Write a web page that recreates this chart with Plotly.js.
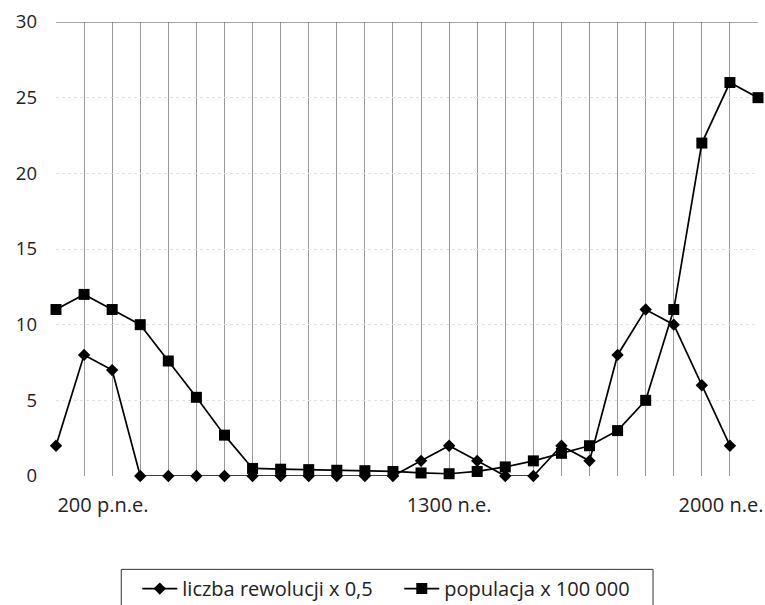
<!DOCTYPE html>
<html>
<head>
<meta charset="utf-8">
<script src="https://cdn.plot.ly/plotly-3.0.1.min.js"></script>
<style>
  html, body { margin: 0; padding: 0; background: #fff; }
  #chart { width: 765px; height: 605px; }
</style>
</head>
<body>
<div id="chart"></div>
<script>
// Evenly spaced time steps (index 0..25)
const steps = Array.from({length: 26}, (_, i) => i);

// Number of revolutions, scaled by 0.5
const revolutions = [2, 8, 7, 0, 0, 0, 0, 0, 0, 0, 0, 0, 0, 1, 2, 1, 0, 0, 2, 1, 8, 11, 10, 6, 2, null];

// Population, in units of 100 000
const population = [11, 12, 11, 10, 7.6, 5.2, 2.7, 0.5, 0.45, 0.42, 0.38, 0.35, 0.3, 0.2, 0.15, 0.3, 0.6, 1, 1.5, 2, 3, 5, 11, 22, 26, 25];

// Era labels along the time axis
const eraLabels = ['200 p.n.e.', '1300 n.e.', '2000 n.e.'];
const eraPositions = [1.67, 14, 23.68];

const yTicks = [0, 5, 10, 15, 20, 25, 30];

const font = 'Open Sans, Noto Sans, sans-serif';

const traces = [
  {
    x: steps, y: revolutions, name: 'liczba rewolucji x 0,5',
    type: 'scatter', mode: 'lines+markers', cliponaxis: false,
    line: {color: '#000', width: 1.7},
    marker: {symbol: 'diamond', size: 9.5, color: '#000'}
  },
  {
    x: steps, y: population, name: 'populacja x 100 000',
    type: 'scatter', mode: 'lines+markers', cliponaxis: false,
    line: {color: '#000', width: 1.7},
    marker: {symbol: 'square', size: 11, color: '#000'}
  }
];

const layout = {
  width: 765, height: 605,
  margin: {l: 55.7, r: 7, t: 22, b: 129.3, autoexpand: false},
  paper_bgcolor: '#fff', plot_bgcolor: '#fff',
  font: {family: font, color: '#222', size: 17},
  showlegend: true,
  legend: {
    orientation: 'h', x: 0.1158, xanchor: 'left', y: -0.205, yanchor: 'top',
    borderwidth: 0, bgcolor: 'rgba(0,0,0,0)',
    font: {family: font, size: 20, color: '#222'},
    itemwidth: 35, traceorder: 'normal',
    entrywidth: 212, entrywidthmode: 'pixels'
  },
  xaxis: {
    range: [0, 25], fixedrange: true,
    tickmode: 'array', tickvals: eraPositions, ticktext: eraLabels,
    ticks: '', showgrid: false, zeroline: false, showline: false,
    ticklabelstandoff: 15,
    tickfont: {family: font, size: 20, color: '#222'},
    minor: {tickmode: 'linear', tick0: 0, dtick: 1, showgrid: true,
            gridcolor: '#9a9a9a', gridwidth: 1, ticks: ''}
  },
  yaxis: {
    range: [0, 30], fixedrange: true,
    tickmode: 'array', tickvals: yTicks, ticks: '',
    showgrid: true, gridcolor: '#e2e2e2', gridwidth: 1, griddash: 'dot',
    zeroline: false, showline: false,
    ticklabelstandoff: 18,
    tickfont: {family: font, size: 18.5, color: '#222'}
  },
  shapes: [
    // top frame line
    {type: 'line', xref: 'paper', yref: 'y', x0: 0, x1: 1, y0: 30, y1: 30,
     line: {color: '#555', width: 1}},
    // legend frame
    {type: 'rect', xref: 'paper', yref: 'paper',
     x0: (121 - 55.7) / 702.3, x1: (653 - 55.7) / 702.3,
     y0: -(615 - 475.7) / 453.7, y1: -(569 - 475.7) / 453.7,
     line: {color: '#333', width: 1}, fillcolor: 'rgba(0,0,0,0)'}
  ]
};

Plotly.newPlot('chart', traces, layout, {displayModeBar: false, staticPlot: true});
</script>
</body>
</html>
